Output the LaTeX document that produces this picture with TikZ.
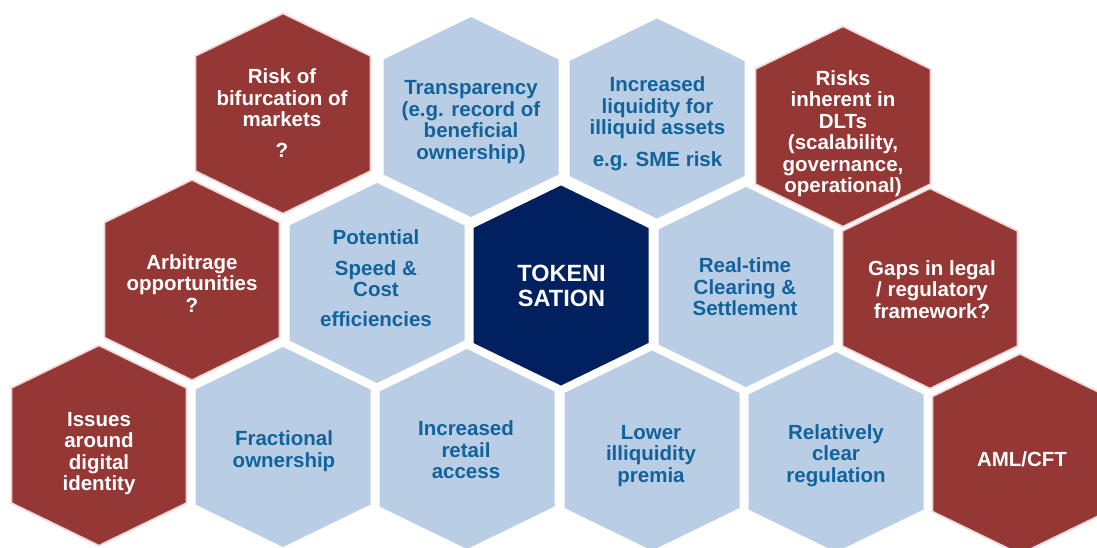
\documentclass[tikz,border=0pt]{standalone}
\usepackage{fontspec}
\setmainfont{Liberation Sans}
\definecolor{hexred}{RGB}{149,55,53}
\definecolor{hexpink}{RGB}{240,212,212}
\definecolor{hexblue}{RGB}{185,205,228}
\definecolor{hexnavy}{RGB}{0,32,96}
\definecolor{hextext}{RGB}{18,98,155}
\newcommand\hxg[2]{\path[#1,shift={#2}] (0,-100) -- (87.5,-57.5) -- (87.5,57.5) -- (0,100) -- (-87.5,57.5) -- (-87.5,-57.5) -- cycle;}
\begin{document}
\begin{tikzpicture}[x=1pt,y=-1pt,
  redhex/.style={fill=hexred,draw=hexpink,line width=1.6pt},
  bluehex/.style={fill=hexblue},
  navyhex/.style={fill=hexnavy},
  txt/.style={align=center,inner sep=0pt,font=\bfseries\fontsize{20.5}{21.5}\selectfont},
  wtxt/.style={txt,text=white},
  btxt/.style={txt,text=hextext}]
\useasboundingbox (0,0) rectangle (1097,547);
\clip (0,0) rectangle (1097,547);
% row 1
\hxg{redhex}{(283,113.5)}
\hxg{bluehex}{(471,117)}
\hxg{bluehex}{(657,118.5)}
\hxg{redhex}{(843,126.5)}
% row 2
\hxg{redhex}{(192,280)}
\hxg{bluehex}{(377,283)}
\hxg{navyhex}{(561,285.5)}
\hxg{bluehex}{(746,287)}
\hxg{redhex}{(930,288.5)}
% row 3
\hxg{redhex}{(99,445.5)}
\hxg{bluehex}{(283,447)}
\hxg{bluehex}{(467,449)}
\hxg{bluehex}{(652,450.5)}
\hxg{bluehex}{(836,452)}
\hxg{redhex}{(1020,454)}
% texts
\node[wtxt] (bif) at (282,113) {Risk of\\bifurcation of\\markets\\[9pt]?};
\node[btxt] (trans) at (471,122) {Transparency\\(e.g. record of\\beneficial\\ownership)};
\node[btxt] (liq) at (657.5,123.5) {Increased\\liquidity for\\illiquid assets\\[10pt]e.g. SME risk};
\node[wtxt] (dlt) at (843,133.5) {Risks\\inherent in\\DLTs\\(scalability,\\governance,\\operational)};
\node[wtxt] (arb) at (192,283.5) {Arbitrage\\opportunities\\?};
\node[btxt] (pot) at (376,278.5) {Potential\\[9pt]Speed \&\\Cost\\[8.5pt]efficiencies};
\node[wtxt,font=\bfseries\fontsize{23.5}{25}\selectfont] (tok) at (561.5,285.8) {TOKENI\\SATION};
\node[btxt] (real) at (745,287) {Real-time\\Clearing \&\\Settlement};
\node[wtxt] (gaps) at (932,289.2) {Gaps in legal\\/ regulatory\\framework?};
\node[wtxt] (iss) at (99,453.5) {Issues\\around\\digital\\identity};
\node[btxt] (frac) at (284,451) {Fractional\\ownership};
\node[btxt] (ret) at (466,450) {Increased\\retail\\access};
\node[btxt] (low) at (651,455.7) {Lower\\illiquidity\\premia};
\node[btxt] (rel) at (836,455.7) {Relatively\\clear\\regulation};
\node[wtxt] (aml) at (1022,459.5) {AML/CFT};
\end{tikzpicture}
\end{document}
